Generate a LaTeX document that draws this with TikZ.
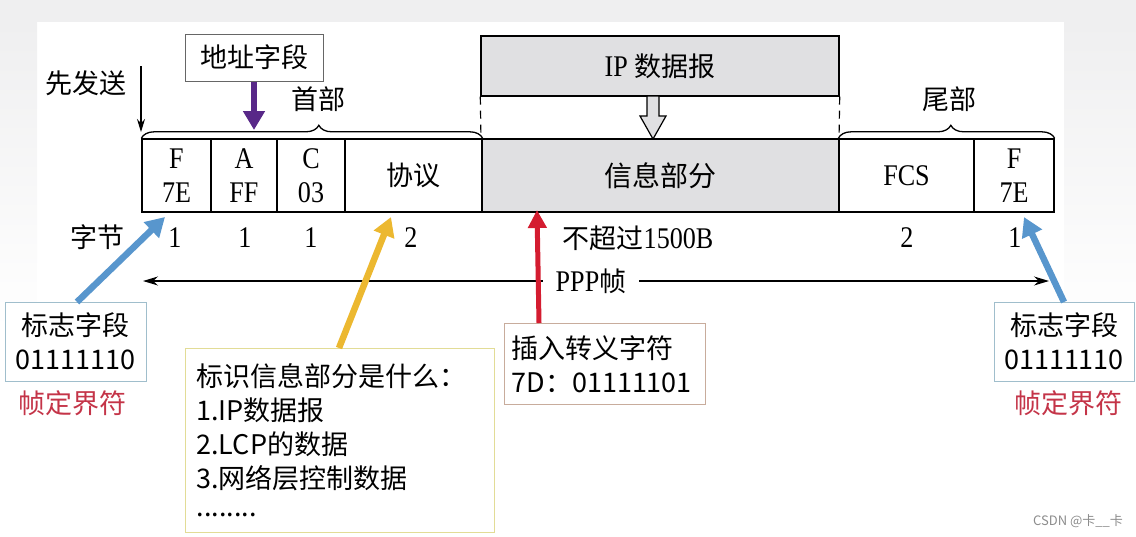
\documentclass[tikz,border=0pt]{standalone}
\usepackage{fontspec}
\setmainfont{Liberation Serif}[FakeStretch=0.87]
\newfontfamily\cjk{Noto Sans CJK SC}
\usetikzlibrary{arrows.meta,decorations.pathreplacing}
\definecolor{outerbg}{RGB}{239,239,240}
\definecolor{infogray}{RGB}{224,224,226}
\definecolor{purp}{RGB}{88,40,136}
\definecolor{bluearr}{RGB}{88,150,205}
\definecolor{yelarr}{RGB}{236,184,48}
\definecolor{redarr}{RGB}{212,28,48}
\definecolor{redtext}{RGB}{196,52,72}
\definecolor{bluebox}{RGB}{160,190,204}
\definecolor{yelbox}{RGB}{226,220,150}
\definecolor{redbox}{RGB}{200,172,156}
\tikzset{
  cell/.style={draw=black,line width=1.4pt,minimum height=73pt,inner sep=0pt,align=center,font=\fontsize{30}{34}\selectfont},
  lbl/.style={inner sep=0pt,font=\fontsize{30}{34}\selectfont},
  cjklbl/.style={inner sep=0pt,font=\cjk\fontsize{27}{30}\selectfont},
  note/.style={draw,line width=1pt,fill=white,align=left,inner sep=0pt,font=\cjk\fontsize{27}{34}\selectfont},
  fatarrow/.style={line width=6.5pt,-{Triangle[length=19pt,width=21pt]}},
}
\begin{document}
\begin{tikzpicture}[x=1pt,y=-1pt]
\useasboundingbox (0,0) rectangle (1136,536);
\fill[outerbg] (0,0) rectangle (1136,22);
\shade[top color=outerbg,bottom color=white] (0,22) rectangle (37,330);
\shade[top color=outerbg,bottom color=white] (1064,22) rectangle (1136,330);

% IP datagram box
\node[cell,fill=infogray,minimum width=358pt,minimum height=60pt] (ip) at (660,66) {IP {\cjk\fontsize{27}{30}\selectfont 数据报}};
\draw[line width=1.2pt,dash pattern=on 8pt off 6pt] (ip.south west) -- (481,139);
\draw[line width=1.2pt,dash pattern=on 8pt off 6pt] (ip.south east) -- (839,139);
\draw[line width=1.2pt,fill=infogray] (647,96) -- (647,116) -- (640,116) -- (653,139) -- (666,116) -- (659,116) -- (659,96) -- cycle;

% frame cells
\node[cell,minimum width=69pt] (f1) at (176.5,175.5) {F\\7E};
\node[cell,minimum width=66pt] (a) at (244,175.5) {A\\FF};
\node[cell,minimum width=68pt] (c) at (311,175.5) {C\\03};
\node[cell,minimum width=137pt,font=\cjk\fontsize{27}{30}\selectfont] (p) at (413.5,175.5) {协议};
\node[cell,fill=infogray,minimum width=357pt,font=\cjk\fontsize{28}{30}\selectfont] (info) at (660.5,175.5) {信息部分};
\node[cell,minimum width=135pt] (fcs) at (906.5,175.5) {FCS};
\node[cell,minimum width=80pt] (f2) at (1014,175.5) {F\\7E};

% braces
\draw[line width=1.3pt,decorate,decoration={brace,amplitude=13pt,aspect=0.52}] (f1.north west) -- (p.north east);
\node[cjklbl] (head) at (318,99) {首部};
\draw[line width=1.3pt,decorate,decoration={brace,amplitude=13pt,aspect=0.52}] (fcs.north west) -- (f2.north east);
\node[cjklbl] (tail) at (949,99) {尾部};

% send first
\node[cjklbl] (send) at (86,83) {先发送};
\coordinate (s1) at (141,66);
\coordinate (s2) at (141,132);
\draw[line width=1.2pt,-{Stealth[length=13pt,width=8pt]}] (s1) -- (s2);

% address box
\node[note,draw=black!60,minimum width=138pt,minimum height=47pt,align=center,font=\cjk\fontsize{27}{30}\selectfont] (addr) at (254,57.5) {地址字段};
\coordinate (addrtip) at (254,130);
\draw[fatarrow,purp] (addr.south) -- (addrtip);

% bytes row
\node[cjklbl] (bytes) at (97,237) {字节};
\node[lbl] (b1) at (175,238) {1};
\node[lbl] (b2) at (245,238) {1};
\node[lbl] (b3) at (311,238) {1};
\node[lbl] (b4) at (411,238) {2};
\node[lbl] (b5) at (638,238) {{\cjk\fontsize{27}{30}\selectfont 不超过}1500B};
\node[lbl] (b6) at (907,238) {2};
\node[lbl] (b7) at (1015,238) {1};

% PPP frame arrow
\node[lbl,inner xsep=13pt] (ppp) at (591,281) {PPP{\cjk\fontsize{27}{30}\selectfont 帧}};
\coordinate (pl) at (143,281);
\coordinate (pr) at (1049,281);
\draw[line width=1.2pt,-{Stealth[length=15pt,width=9pt]}] (ppp.west) -- (pl);
\draw[line width=1.2pt,-{Stealth[length=15pt,width=9pt]}] (ppp.east) -- (pr);

% left flag box
\node[note,draw=bluebox,minimum width=141pt,minimum height=79pt,align=center] (flagl) at (75.5,341.5) {标志字段\\01111110};
\node[inner sep=0pt,font=\cjk\fontsize{27}{30}\selectfont,text=redtext] (dl) at (73,403) {帧定界符};
\coordinate (fltip) at (165,217);
\draw[fatarrow,bluearr] (77,302) -- (fltip);

% right flag box
\node[note,draw=bluebox,minimum width=140pt,minimum height=79pt,align=center] (flagr) at (1064,341.5) {标志字段\\01111110};
\node[inner sep=0pt,font=\cjk\fontsize{27}{30}\selectfont,text=redtext] (dr) at (1068,403) {帧定界符};
\coordinate (frtip) at (1024,217);
\draw[fatarrow,bluearr] (1064,302) -- (frtip);

% protocol note
\node[note,draw=yelbox,minimum width=307pt,minimum height=184pt,anchor=north west,text width=287pt,inner xsep=11pt] (proto) at (185,348) {标识信息部分是什么：\\1.IP数据报\\2.LCP的数据\\3.网络层控制数据\\[-6pt]........};
\coordinate (prtip) at (391,217);
\draw[fatarrow,yelarr] (339,348) -- (prtip);

% escape note
\node[note,draw=redbox,minimum width=201pt,minimum height=81pt,anchor=north west,text width=187pt,inner xsep=7pt] (esc) at (504,323) {插入转义字符\\7D：01111101};
\coordinate (estip) at (537,210);
\draw[line width=5pt,redarr,-{Triangle[length=18pt,width=18pt]}] (539,323) -- (estip);

% watermark
\node[inner sep=0pt,text=black!45,font=\cjk\fontsize{13}{15}\selectfont] (wm) at (1078,521) {CSDN @卡\_\_卡};
\end{tikzpicture}
\end{document}
